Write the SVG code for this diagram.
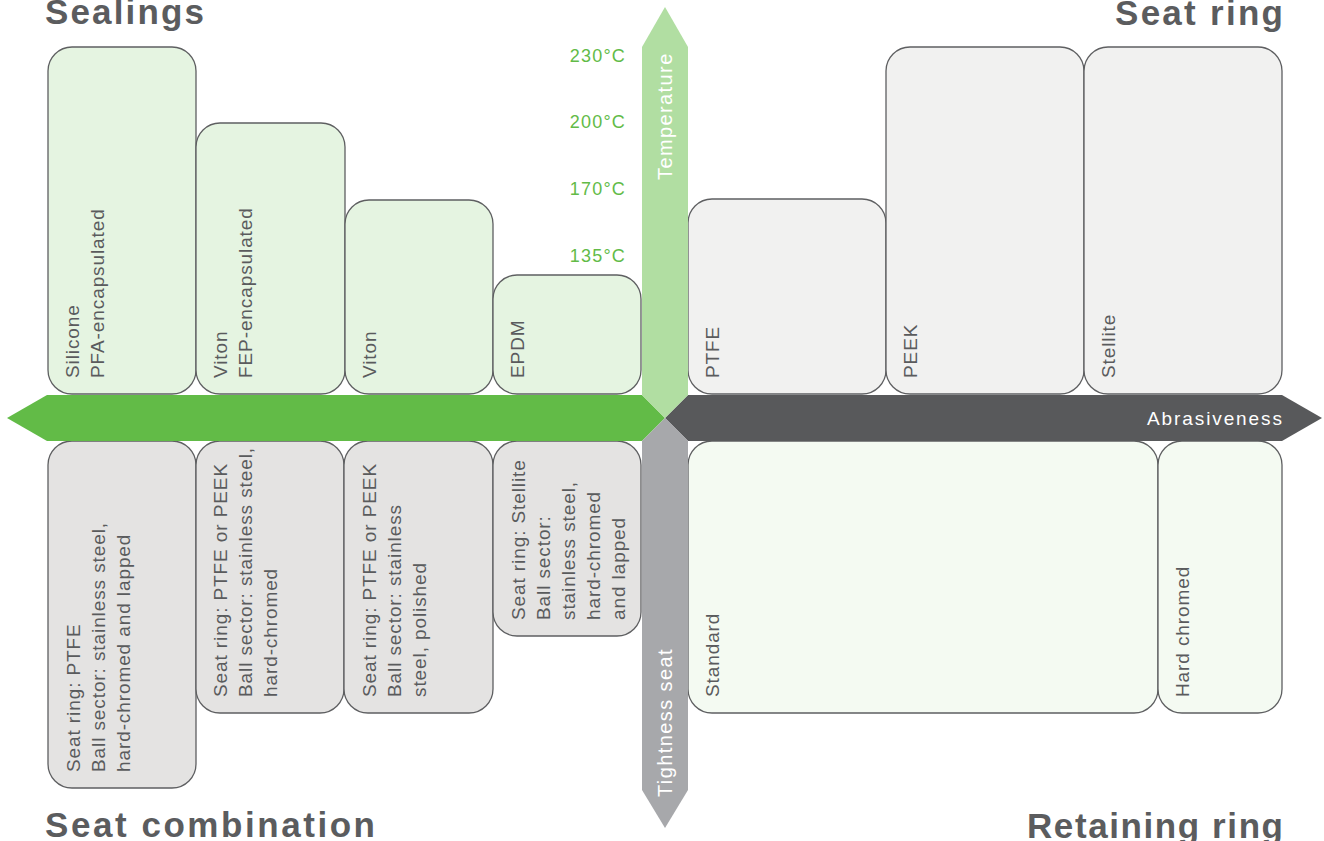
<svg xmlns="http://www.w3.org/2000/svg" width="1324" height="841" viewBox="0 0 1324 841">
  <style>
    .title { font-family: "Liberation Sans", Arial, sans-serif; font-weight: bold; font-size: 35px; fill: #5b5c5e; }
    .box { stroke: #5e5f61; stroke-width: 1.3; }
    .seal { fill: #e5f4e1; }
    .seat { fill: #f1f1f0; }
    .combo { fill: #e4e3e2; }
    .retain { fill: #f4faf2; }
    .lbl { font-family: "Liberation Sans", Arial, sans-serif; font-size: 19px; fill: #5a5b5d; letter-spacing: 0.9px; }
    .axis { font-family: "Liberation Sans", Arial, sans-serif; font-size: 20px; fill: #ffffff; letter-spacing: 1.4px; }
    .temp { font-family: "Liberation Sans", Arial, sans-serif; font-size: 18px; fill: #62bb47; letter-spacing: 1.2px; text-anchor: end; }
  </style>

  <!-- Quadrant titles -->
  <text class="title" x="45" y="24" textLength="159" lengthAdjust="spacing">Sealings</text>
  <text class="title" x="1115" y="25" textLength="168" lengthAdjust="spacing">Seat ring</text>
  <text class="title" x="45" y="837" textLength="330" lengthAdjust="spacing">Seat combination</text>
  <text class="title" x="1027" y="838" textLength="256" lengthAdjust="spacing">Retaining ring</text>

  <!-- Temperature scale -->
  <g id="temperature-scale">
    <text class="temp" x="626" y="62">230°C</text>
    <text class="temp" x="626" y="128">200°C</text>
    <text class="temp" x="626" y="195">170°C</text>
    <text class="temp" x="626" y="262">135°C</text>
  </g>

  <!-- Sealings (top left) -->
  <g id="seal-silicone">
    <rect class="box seal" x="48" y="47" width="148" height="347" rx="24"/>
    <text class="lbl" transform="translate(79,378) rotate(-90)">Silicone</text>
    <text class="lbl" transform="translate(104,378) rotate(-90)">PFA-encapsulated</text>
  </g>
  <g id="seal-viton-fep">
    <rect class="box seal" x="196" y="123" width="149" height="271" rx="24"/>
    <text class="lbl" transform="translate(227,378) rotate(-90)">Viton</text>
    <text class="lbl" transform="translate(252,378) rotate(-90)">FEP-encapsulated</text>
  </g>
  <g id="seal-viton">
    <rect class="box seal" x="345" y="200" width="148" height="194" rx="24"/>
    <text class="lbl" transform="translate(376,378) rotate(-90)">Viton</text>
  </g>
  <g id="seal-epdm">
    <rect class="box seal" x="493" y="275" width="148" height="119" rx="24"/>
    <text class="lbl" transform="translate(524,378) rotate(-90)">EPDM</text>
  </g>

  <!-- Seat ring (top right) -->
  <g id="seat-ptfe">
    <rect class="box seat" x="688" y="199" width="198" height="195" rx="24"/>
    <text class="lbl" transform="translate(719,378) rotate(-90)">PTFE</text>
  </g>
  <g id="seat-peek">
    <rect class="box seat" x="886" y="47" width="198" height="347" rx="24"/>
    <text class="lbl" transform="translate(917,378) rotate(-90)">PEEK</text>
  </g>
  <g id="seat-stellite">
    <rect class="box seat" x="1084" y="47" width="198" height="347" rx="24"/>
    <text class="lbl" transform="translate(1115,378) rotate(-90)">Stellite</text>
  </g>

  <!-- Seat combination (bottom left) -->
  <g id="combo-ptfe">
    <rect class="box combo" x="48" y="441" width="148" height="347" rx="24"/>
    <text class="lbl" transform="translate(80,772) rotate(-90)">Seat ring: PTFE</text>
    <text class="lbl" transform="translate(105,772) rotate(-90)">Ball sector: stainless steel,</text>
    <text class="lbl" transform="translate(130,772) rotate(-90)">hard-chromed and lapped</text>
  </g>
  <g id="combo-ptfe-peek-chromed">
    <rect class="box combo" x="196" y="441" width="148" height="272" rx="24"/>
    <text class="lbl" transform="translate(227,697) rotate(-90)">Seat ring: PTFE or PEEK</text>
    <text class="lbl" transform="translate(252,697) rotate(-90)">Ball sector: stainless steel,</text>
    <text class="lbl" transform="translate(277,697) rotate(-90)">hard-chromed</text>
  </g>
  <g id="combo-ptfe-peek-polished">
    <rect class="box combo" x="344" y="441" width="149" height="272" rx="24"/>
    <text class="lbl" transform="translate(376,697) rotate(-90)">Seat ring: PTFE or PEEK</text>
    <text class="lbl" transform="translate(401,697) rotate(-90)">Ball sector: stainless</text>
    <text class="lbl" transform="translate(426,697) rotate(-90)">steel, polished</text>
  </g>
  <g id="combo-stellite">
    <rect class="box combo" x="493" y="441" width="148" height="195" rx="24"/>
    <text class="lbl" transform="translate(525,620) rotate(-90)">Seat ring: Stellite</text>
    <text class="lbl" transform="translate(550,620) rotate(-90)">Ball sector:</text>
    <text class="lbl" transform="translate(575,620) rotate(-90)">stainless steel,</text>
    <text class="lbl" transform="translate(600,620) rotate(-90)">hard-chromed</text>
    <text class="lbl" transform="translate(625,620) rotate(-90)">and lapped</text>
  </g>

  <!-- Retaining ring (bottom right) -->
  <g id="retain-standard">
    <rect class="box retain" x="688" y="441" width="470" height="272" rx="24"/>
    <text class="lbl" transform="translate(719,697) rotate(-90)">Standard</text>
  </g>
  <g id="retain-hard-chromed">
    <rect class="box retain" x="1158" y="441" width="124" height="272" rx="24"/>
    <text class="lbl" transform="translate(1189,697) rotate(-90)">Hard chromed</text>
  </g>

  <!-- Axis arrows meeting at the centre -->
  <g id="connectors">
    <polygon points="7,418 47,395 642,395 665,418 642,441 47,441" fill="#62bb47"/>
    <polygon points="665,418 688,395 1282,395 1322,418 1282,441 688,441" fill="#58595b"/>
    <polygon points="665,7 688,47 688,395 665,418 642,395 642,47" fill="#b1dea2"/>
    <polygon points="665,418 688,441 688,790 665,828 642,790 642,441" fill="#a7a8ab"/>
    <text class="axis" transform="translate(672,180) rotate(-90)">Temperature</text>
    <text class="axis" transform="translate(672,797) rotate(-90)">Tightness seat</text>
    <text class="axis" x="1147" y="425" style="font-size:19px;letter-spacing:1.9px">Abrasiveness</text>
  </g>
</svg>
